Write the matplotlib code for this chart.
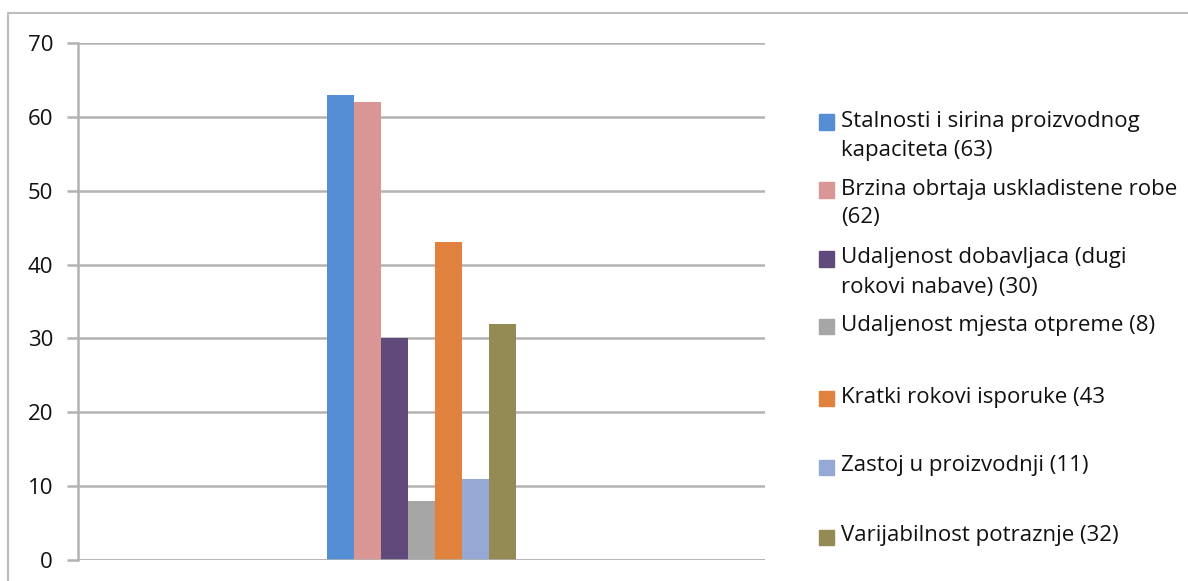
import numpy as np
import matplotlib.pyplot as plt
from matplotlib.patches import Rectangle

plt.rcParams['font.family'] = ['Open Sans', 'DejaVu Sans']

# podaci
labels = ["Stalnosti i sirina proizvodnog\nkapaciteta (63)",
          "Brzina obrtaja uskladistene robe\n(62)",
          "Udaljenost dobavljaca (dugi\nrokovi nabave) (30)",
          "Udaljenost mjesta otpreme (8)",
          "Kratki rokovi isporuke (43",
          "Zastoj u proizvodnji (11)",
          "Varijabilnost potraznje (32)"]
values = [63, 62, 30, 8, 43, 11, 32]
colors = ["#558ed5", "#d99694", "#604a7b", "#a6a6a6", "#e0823d", "#95a9d4", "#948a54"]
yticks = [0, 10, 20, 30, 40, 50, 60, 70]

W, H = 1188, 581
fig = plt.figure(figsize=(W / 100, H / 100), dpi=100)

# okvir oko cijele slike
fig.patches.append(Rectangle((8 / W, -0.1), 1.2, 1 - 13 / H + 0.1, transform=fig.transFigure,
                             fill=False, edgecolor="#bdbdbd", linewidth=1.5))

ax = fig.add_axes([78 / W, 1 - 560 / H, (765 - 78) / W, (560 - 43) / H])
bw = 27 / 687
x = (np.arange(len(values)) - 3) * bw
ax.bar(x, values, width=bw, color=colors, zorder=3)

ax.set_xlim(-0.5, 0.5)
ax.set_ylim(0, 70)
ax.set_yticks(yticks)
ax.set_xticks([])
ax.grid(axis='y', color="#b3b3b3", linewidth=1.8, zorder=0)
for s in ['top', 'right', 'bottom']:
    ax.spines[s].set_visible(False)
ax.spines['left'].set_color("#b3b3b3")
ax.spines['left'].set_linewidth(1.8)
ax.tick_params(axis='y', length=8, width=1.8, color="#b3b3b3", labelsize=16,
               labelcolor="#111111", pad=10)
ax.axhline(0, color="#b3b3b3", linewidth=1.8, zorder=4)

# legenda
leg_y = [122, 190, 259, 326, 398, 467, 537]
for lab, c, yy in zip(labels, colors, leg_y):
    fig.patches.append(Rectangle((819 / W, 1 - (yy + 7.5) / H), 15 / W, 15 / H,
                                 transform=fig.transFigure, color=c))
    fig.text(841 / W, 1 - (yy - 11.5) / H, lab, fontsize=16, va='top', ha='left',
             linespacing=1.5, color="#111111")

plt.savefig('out.png', dpi=100)
